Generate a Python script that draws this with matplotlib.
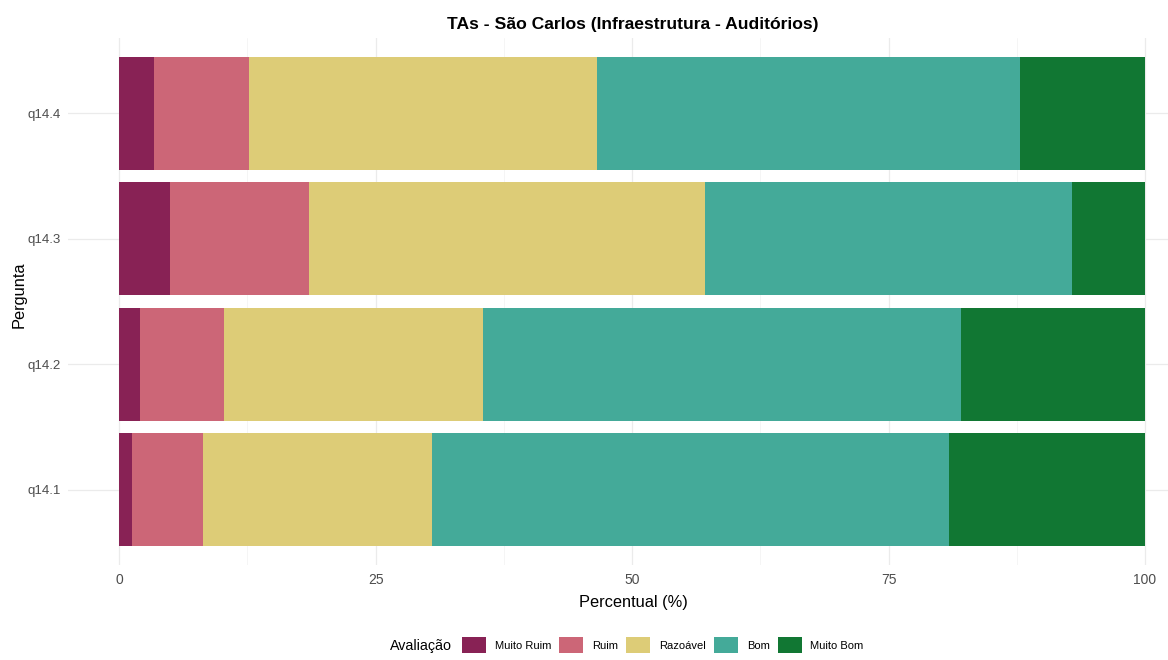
import matplotlib
matplotlib.use("Agg")
import matplotlib.pyplot as plt
from matplotlib.patches import Patch
import numpy as np

# ===== data (percent per rating) =====
perguntas = ["q14.1", "q14.2", "q14.3", "q14.4"]
categorias = ["Muito Ruim", "Ruim", "Razoável", "Bom", "Muito Bom"]
muito_ruim = [1.26, 2.04, 4.95, 3.34]
ruim = [6.90, 8.16, 13.54, 9.35]
razoavel = [22.30, 25.30, 38.58, 33.87]
bom = [50.40, 46.57, 35.83, 41.24]
muito_bom = [19.14, 17.93, 7.10, 12.20]

cores = ["#882255", "#CC6677", "#DDCC77", "#44AA99", "#117733"]

plt.rcParams["font.family"] = ["Liberation Sans", "DejaVu Sans"]

W, H = 1168, 660
fig = plt.figure(figsize=(W / 100, H / 100), dpi=100)
fig.patch.set_facecolor("white")

# panel position in pixels
left_px, right_px, top_px, bottom_px = 68, 1168, 38, 565
ax = fig.add_axes([left_px / W, 1 - bottom_px / H,
                   (right_px - left_px) / W, (bottom_px - top_px) / H])

y = np.arange(len(perguntas))
series = [muito_ruim, ruim, razoavel, bom, muito_bom]
acum = np.zeros(len(perguntas))
for vals, cor, nome in zip(series, cores, categorias):
    vals = np.array(vals)
    ax.barh(y, vals, left=acum, height=0.9, color=cor, edgecolor="none",
            label=nome, zorder=2)
    acum += vals

# axes / grid in theme_minimal style
ax.set_xlim(-5, 100 + (W - 1145) / 10.25)
ax.set_ylim(-0.6, len(perguntas) - 0.4)
ax.set_xticks([0, 25, 50, 75, 100])
ax.set_xticks([12.5, 37.5, 62.5, 87.5], minor=True)
ax.set_yticks(y)
ax.set_yticklabels(perguntas)
for s in ax.spines.values():
    s.set_visible(False)
ax.grid(True, which="major", color="#EBEBEB", linewidth=0.9, zorder=0)
ax.grid(True, which="minor", axis="x", color="#F2F2F2", linewidth=0.5, zorder=0)
ax.set_axisbelow(True)
ax.tick_params(axis="both", which="both", length=0)
ax.tick_params(axis="x", labelsize=10, labelcolor="#4D4D4D", pad=6)
ax.tick_params(axis="y", labelsize=9.5, labelcolor="#4D4D4D", pad=5)

ax.set_xlabel("Percentual (%)", fontsize=11.8, color="black", va="center")
ax.xaxis.set_label_coords((633 - left_px) / (right_px - left_px),
                          (bottom_px - 602) / (bottom_px - top_px))
ax.set_ylabel("Pergunta", fontsize=11.8, color="black", va="center")
ax.yaxis.set_label_coords((19 - left_px) / (right_px - left_px),
                          (bottom_px - 295) / (bottom_px - top_px))

fig.text(633 / W, 1 - 24 / H, "TAs - São Carlos (Infraestrutura - Auditórios)",
         ha="center", va="center", fontsize=12.6, fontweight="bold")

# legend at the bottom with title on the left
fig.text(390 / W, 1 - 646 / H, "Avaliação", ha="left", va="center", fontsize=10.3)
handles = [Patch(facecolor=c, edgecolor="none", label=n) for c, n in zip(cores, categorias)]
fig.legend(handles=handles, loc="center left", bbox_to_anchor=(462 / W, 1 - 645 / H),
           ncol=5, frameon=False, fontsize=8, borderpad=0, borderaxespad=0,
           handlelength=2.16, handleheight=1.8, handletextpad=0.8,
           columnspacing=0.72)

fig.savefig("out.png", dpi=100, facecolor="white")
